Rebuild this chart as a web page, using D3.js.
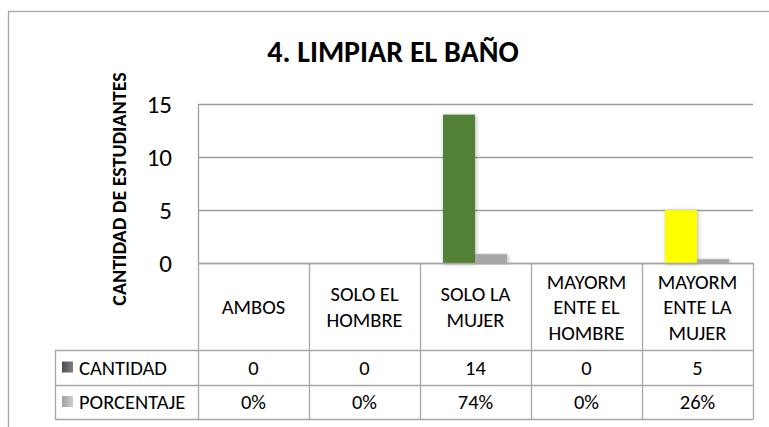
<!DOCTYPE html>
<html>
<head>
<meta charset="utf-8">
<script src="https://cdn.jsdelivr.net/npm/d3@7"></script>
<style>
  html, body { margin: 0; padding: 0; background: #fff; }
  svg { display: block; font-family: Carlito, "Open Sans", "Noto Sans", sans-serif; }
</style>
</head>
<body>
<svg id="chart" width="769" height="427"></svg>
<script>
// datos del gráfico
const categorias = [["AMBOS"], ["SOLO EL", "HOMBRE"], ["SOLO LA", "MUJER"], ["MAYORM", "ENTE EL", "HOMBRE"], ["MAYORM", "ENTE LA", "MUJER"]];
const cantidad = [0, 0, 14, 0, 5];
const porcentaje = [0, 0, 0.74, 0, 0.26];
const porcentajeTxt = ["0%", "0%", "74%", "0%", "26%"];
const coloresCantidad = ["#595959", "#595959", "#538135", "#595959", "#ffff00"];
const yTicks = [0, 5, 10, 15];
const series = ["CANTIDAD", "PORCENTAJE"];

const svg = d3.select("#chart");

// sombra suave de las barras
const defs = svg.append("defs");
const f = defs.append("filter").attr("id", "sombra")
  .attr("x", "-40%").attr("y", "-10%").attr("width", "180%").attr("height", "130%");
f.append("feDropShadow").attr("dx", 1).attr("dy", 1).attr("stdDeviation", 2.2)
  .attr("flood-color", "#000").attr("flood-opacity", 0.3);
const gOscuro = defs.append("linearGradient").attr("id", "gOscuro");
gOscuro.append("stop").attr("offset", "0%").attr("stop-color", "#4d4d4d");
gOscuro.append("stop").attr("offset", "100%").attr("stop-color", "#808080");
const gClaro = defs.append("linearGradient").attr("id", "gClaro");
gClaro.append("stop").attr("offset", "0%").attr("stop-color", "#a0a0a0");
gClaro.append("stop").attr("offset", "100%").attr("stop-color", "#cfcfcf");

// borde exterior (recortado a la derecha y abajo)
svg.append("rect").attr("x", 8.5).attr("y", 11.5).attr("width", 800).attr("height", 450)
  .attr("fill", "none").attr("stroke", "#a6a6a6").attr("stroke-width", 1.3);

// título
svg.append("text").attr("x", 393).attr("y", 62).attr("text-anchor", "middle")
  .attr("font-weight", "bold").attr("font-size", 30).attr("fill", "#000")
  .text("4. LIMPIAR EL BAÑO");

// escalas
const x = d3.scaleBand().domain(d3.range(categorias.length)).range([198, 753]);
const xs = d3.scaleBand().domain(series).range([23, 87]);
const y = d3.scaleLinear().domain([0, 15]).range([263, 104]);

// líneas de cuadrícula
svg.append("g").selectAll("line").data(yTicks).join("line")
  .attr("x1", 198).attr("x2", 753)
  .attr("y1", d => Math.round(y(d)) + 0.5).attr("y2", d => Math.round(y(d)) + 0.5)
  .attr("stroke", "#9e9e9e").attr("stroke-width", 1.3);

// eje y
const yAxis = svg.append("g").attr("transform", "translate(198,0)")
  .call(d3.axisLeft(y).tickValues(yTicks).tickSize(0).tickPadding(26));
yAxis.select(".domain").attr("stroke", "#9e9e9e").attr("stroke-width", 1.3);
yAxis.selectAll("text").attr("font-size", 25).attr("fill", "#000")
  .attr("font-family", 'Carlito, "Open Sans", sans-serif');

svg.append("text").attr("transform", "translate(126,189) rotate(-90)")
  .attr("text-anchor", "middle").attr("font-weight", "bold").attr("font-size", 20)
  .text("CANTIDAD DE ESTUDIANTES");

// barras
const grupos = svg.append("g").selectAll("g").data(d3.range(categorias.length)).join("g")
  .attr("transform", i => `translate(${x(i)},0)`);
grupos.filter(i => cantidad[i] > 0).append("rect")
  .attr("x", xs("CANTIDAD")).attr("width", xs.bandwidth())
  .attr("y", i => y(cantidad[i])).attr("height", i => y(0) - y(cantidad[i]))
  .attr("fill", i => coloresCantidad[i]).attr("filter", "url(#sombra)");
grupos.filter(i => porcentaje[i] > 0).append("rect")
  .attr("x", xs("PORCENTAJE")).attr("width", xs.bandwidth())
  .attr("y", i => y(porcentaje[i]) - 1).attr("height", i => y(0) - y(porcentaje[i]) + 1)
  .attr("fill", "#a6a6a6").attr("filter", "url(#sombra)");

// tabla de datos
const tabla = svg.append("g").attr("stroke", "#a6a6a6").attr("stroke-width", 1.3);
const filas = [263, 350, 385, 419];
const xIzq = 55;
tabla.append("line").attr("x1", 198).attr("x2", 753).attr("y1", 263.5).attr("y2", 263.5);
filas.slice(1).forEach(yy => {
  tabla.append("line").attr("x1", xIzq).attr("x2", 753).attr("y1", yy + 0.5).attr("y2", yy + 0.5);
});
const bordes = d3.range(categorias.length).map(i => x(i)).concat([753]);
bordes.forEach(xx => {
  tabla.append("line").attr("x1", Math.round(xx) + 0.5).attr("x2", Math.round(xx) + 0.5)
    .attr("y1", 263).attr("y2", 419.5);
});
tabla.append("line").attr("x1", xIzq + 0.5).attr("x2", xIzq + 0.5).attr("y1", 350).attr("y2", 419.5);

// textos de categorías y valores
const txt = svg.append("g").attr("font-size", 20.5).attr("fill", "#000").attr("text-anchor", "middle");
categorias.forEach((lineas, i) => {
  const cx = x(i) + x.bandwidth() / 2;
  const lh = 25.5;
  const y0 = 307 - (lineas.length - 1) * lh / 2;
  lineas.forEach((l, k) => {
    txt.append("text").attr("x", cx).attr("y", y0 + k * lh).attr("dy", "0.35em").text(l);
  });
  txt.append("text").attr("x", cx).attr("y", 367.5).attr("dy", "0.35em").text(cantidad[i]);
  txt.append("text").attr("x", cx).attr("y", 402).attr("dy", "0.35em").text(porcentajeTxt[i]);
});

// leyenda dentro de la tabla
const leyenda = [{ nombre: "CANTIDAD", fill: "url(#gOscuro)", cy: 367.5 }, { nombre: "PORCENTAJE", fill: "url(#gClaro)", cy: 402 }];
leyenda.forEach(l => {
  svg.append("rect").attr("x", 62).attr("y", l.cy - 6).attr("width", 11).attr("height", 11).attr("fill", l.fill);
  svg.append("text").attr("x", 79).attr("y", l.cy).attr("dy", "0.35em")
    .attr("font-size", 20.5).text(l.nombre);
});
</script>
</body>
</html>
